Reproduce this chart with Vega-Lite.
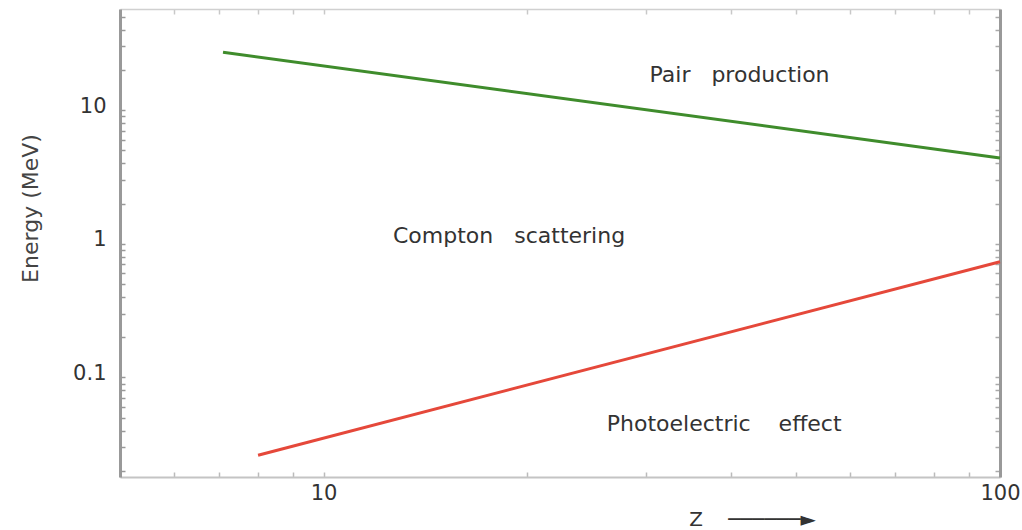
{
  "$schema": "https://vega.github.io/schema/vega-lite/v6.json",
  "width": 880,
  "height": 468,
  "autosize": {"type": "none"},
  "padding": {"left": 120, "top": 9, "right": 22, "bottom": 53},
  "background": "white",
  "config": {"view": {"stroke": null}, "font": "DejaVu Sans"},
  "datasets": {
    "lines": [
      {"boundary": "Compton / pair production", "Z": 7.1, "E": 27.1},
      {"boundary": "Compton / pair production", "Z": 100, "E": 4.38},
      {"boundary": "Photoelectric / Compton", "Z": 8, "E": 0.0262},
      {"boundary": "Photoelectric / Compton", "Z": 100, "E": 0.734}
    ],
    "labels": [
      {"label": "Pair\u00a0\u00a0 production", "Z": 41.2, "E": 18.2},
      {"label": "Compton\u00a0\u00a0 scattering", "Z": 18.8, "E": 1.15},
      {"label": "Photoelectric\u00a0\u00a0\u00a0 effect", "Z": 39.1, "E": 0.0446}
    ]
  },
  "layer": [
    {
      "data": {"name": "lines"},
      "mark": {"type": "line", "strokeWidth": 3},
      "encoding": {
        "x": {
          "field": "Z", "type": "quantitative",
          "scale": {"type": "log", "domain": [5, 100], "nice": false},
          "axis": {
            "orient": "bottom",
            "values": [5, 6, 7, 8, 9, 10, 20, 30, 40, 50, 60, 70, 80, 90, 100],
            "labelExpr": "datum.value == 10 || datum.value == 100 ? datum.value : ''",
            "grid": false,
            "domainColor": "#c4c4c4", "domainWidth": 2,
            "tickColor": "#bbbbbb", "tickWidth": 1.5, "tickSize": -5,
            "labelFontSize": 21, "labelColor": "#333333", "labelPadding": 10, "labelFlush": false,
            "title": "Z\u00a0\u00a0\u00a0 ──────►",
            "titleFontSize": 20, "titleFontWeight": "normal", "titleColor": "#333333",
            "titleX": 632, "titleY": 42, "titleAlign": "center", "titleBaseline": "middle"
          }
        },
        "y": {
          "field": "E", "type": "quantitative",
          "scale": {"type": "log", "domain": [0.018, 57], "nice": false},
          "axis": {
            "orient": "left",
            "values": [0.02, 0.03, 0.04, 0.05, 0.06, 0.07, 0.08, 0.09, 0.1, 0.2, 0.3, 0.4, 0.5, 0.6, 0.7, 0.8, 0.9, 1, 2, 3, 4, 5, 6, 7, 8, 9, 10, 20, 30, 40, 50],
            "labelExpr": "datum.value == 0.1 || datum.value == 1 || datum.value == 10 ? datum.value : ''",
            "grid": false,
            "domainColor": "#999999", "domainWidth": 3,
            "tickColor": "#999999", "tickWidth": 1.5, "tickSize": -5,
            "labelFontSize": 21, "labelColor": "#333333", "labelPadding": 19, "labelOffset": -4,
            "title": "Energy (MeV)",
            "titleFontSize": 22, "titleFontWeight": "normal", "titleColor": "#444444",
            "titleX": -90, "titleY": 199, "titleAlign": "center", "titleBaseline": "middle"
          }
        },
        "color": {
          "field": "boundary", "type": "nominal",
          "scale": {"domain": ["Compton / pair production", "Photoelectric / Compton"], "range": ["#3f8c2c", "#e5483a"]},
          "legend": null
        }
      }
    },
    {
      "data": {"name": "labels"},
      "mark": {"type": "text", "fontSize": 22, "color": "#333333", "align": "center", "baseline": "middle"},
      "encoding": {
        "x": {
          "field": "Z", "type": "quantitative",
          "scale": {"type": "log", "domain": [5, 100], "nice": false},
          "axis": {
            "orient": "top", "labels": false, "title": null, "grid": false,
            "values": [5, 6, 7, 8, 9, 10, 20, 30, 40, 50, 60, 70, 80, 90, 100],
            "domainColor": "#d0d0d0", "domainWidth": 1.5,
            "tickColor": "#c8c8c8", "tickWidth": 1.5, "tickSize": -5
          }
        },
        "y": {
          "field": "E", "type": "quantitative",
          "scale": {"type": "log", "domain": [0.018, 57], "nice": false},
          "axis": {
            "orient": "right", "labels": false, "title": null, "grid": false,
            "values": [0.02, 0.03, 0.04, 0.05, 0.06, 0.07, 0.08, 0.09, 0.1, 0.2, 0.3, 0.4, 0.5, 0.6, 0.7, 0.8, 0.9, 1, 2, 3, 4, 5, 6, 7, 8, 9, 10, 20, 30, 40, 50],
            "domainColor": "#999999", "domainWidth": 3,
            "tickColor": "#aaaaaa", "tickWidth": 1.5, "tickSize": -5
          }
        },
        "text": {"field": "label", "type": "nominal"}
      }
    }
  ],
  "resolve": {"axis": {"x": "independent", "y": "independent"}}
}
